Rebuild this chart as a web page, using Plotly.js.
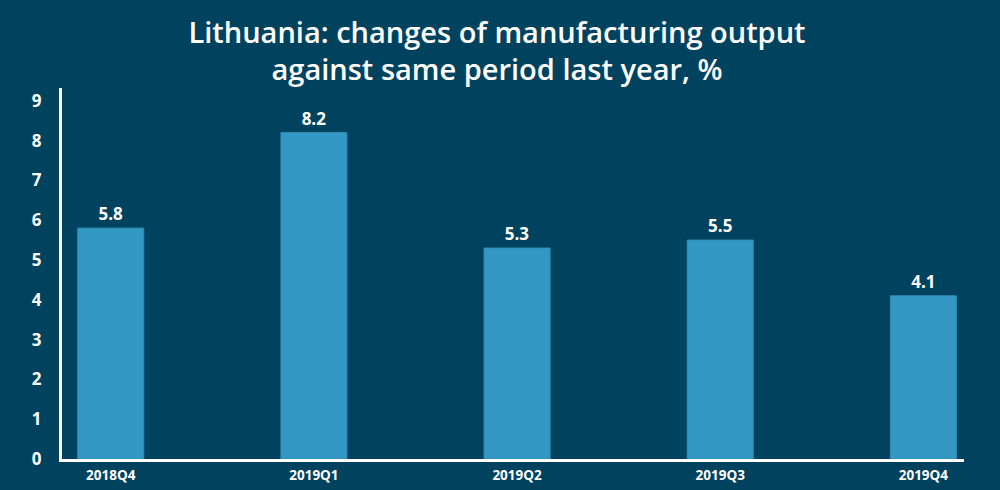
<!DOCTYPE html>
<html>
<head>
<meta charset="utf-8">
<script src="https://cdn.plot.ly/plotly-3.0.1.min.js"></script>
<style>html,body{margin:0;padding:0;background:#01435f;}#chart{width:1000px;height:490px;}</style>
</head>
<body>
<div id="chart"></div>
<script>
const categories = ["2018Q4", "2019Q1", "2019Q2", "2019Q3", "2019Q4"];
const values = [5.8, 8.2, 5.3, 5.5, 4.1];
const yTicks = [0, 1, 2, 3, 4, 5, 6, 7, 8, 9];
const titleText = "Lithuania: changes of manufacturing output<br>against same period last year, %";

const bg = "#01435f";
const barColor = "#3399c4";
const fam = "'Open Sans', Lato, sans-serif";

Plotly.newPlot("chart", [{
  type: "bar",
  x: categories,
  y: values,
  width: 0.325,
  marker: {color: barColor, line: {color: "#2f8cb5", width: 1}},
  text: values.map(v => v.toFixed(1)),
  textposition: "outside",
  cliponaxis: false,
  textfont: {family: fam, size: 17, color: "#ffffff", weight: 700},
  hoverinfo: "none"
}], {
  width: 1000, height: 490,
  paper_bgcolor: bg, plot_bgcolor: bg,
  margin: {l: 62, r: 36, t: 88, b: 31},
  title: {
    text: titleText,
    x: 0.497, xanchor: "center", xref: "container",
    yref: "container", y: 0.913, yanchor: "middle",
    font: {family: fam, size: 29, color: "#ffffff", weight: 600}
  },
  showlegend: false,
  xaxis: {
    type: "category",
    range: [-0.24, 4.2],
    showline: true, linecolor: "#ffffff", linewidth: 3,
    showgrid: false, zeroline: false, ticks: "",
    ticklabelstandoff: 2,
    tickfont: {family: fam, size: 13.5, color: "#ffffff", weight: 700},
    fixedrange: true
  },
  yaxis: {
    range: [0, 9.32],
    tickvals: yTicks,
    ticktext: yTicks.map(String),
    showline: true, linecolor: "#ffffff", linewidth: 3,
    showgrid: false, zeroline: false, ticks: "",
    ticklabelstandoff: 14,
    tickfont: {family: fam, size: 17, color: "#ffffff", weight: 700},
    fixedrange: true
  }
}, {displayModeBar: false, staticPlot: true});
</script>
</body>
</html>
